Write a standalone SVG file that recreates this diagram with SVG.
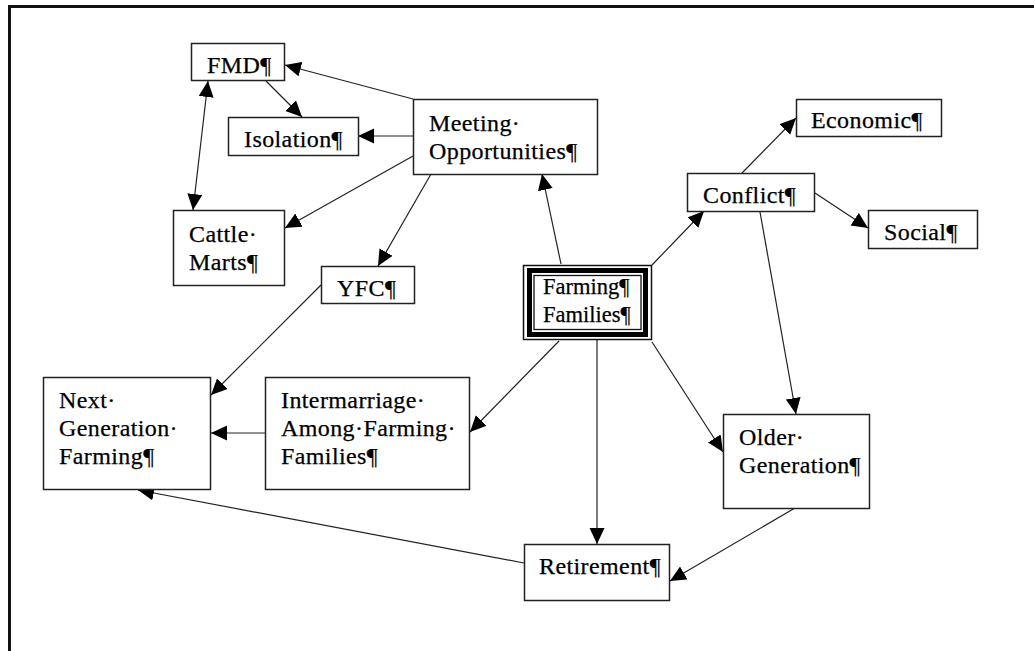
<svg xmlns="http://www.w3.org/2000/svg" width="1034" height="651" viewBox="0 0 1034 651">
<defs>
<marker id="ah" markerUnits="userSpaceOnUse" markerWidth="17" markerHeight="16" refX="16" refY="7.5" orient="auto-start-reverse" viewBox="0 0 17 16">
<path d="M0,0 L16,7.5 L0,15 z" fill="#000"/>
</marker>
<style>
.box{fill:#fff;stroke:#222;stroke-width:1.5}
.t{font-family:"Liberation Serif","Times New Roman",serif;font-size:24px;letter-spacing:0.4px;fill:#000;stroke:#000;stroke-width:0.25}
.ff{font-size:22.5px;letter-spacing:0}
.c{fill:none;stroke:#222;stroke-width:1.2;marker-end:url(#ah)}
</style>
</defs>
<rect width="1034" height="651" fill="#fff"/>
<rect id="frame" x="9.5" y="6.5" width="1040" height="670" fill="none" stroke="#111" stroke-width="3"/>
<g id="connectors">
<path class="c" d="M413,99 L285,65"/>
<path class="c" d="M266,81 L302,117"/>
<path class="c" d="M413,136 L358,136"/>
<path class="c" d="M208,81 L193,210" style="marker-start:url(#ah)"/>
<path class="c" d="M413,156 L285,228"/>
<path class="c" d="M431,174 L378,266"/>
<path class="c" d="M321,285 L211,395"/>
<path class="c" d="M265,433 L211,433"/>
<path class="c" d="M524,563 L138,490"/>
<path class="c" d="M561,264 L542,174"/>
<path class="c" d="M652,265 L704,211"/>
<path class="c" d="M742,173 L796,118"/>
<path class="c" d="M815,193 L868,228"/>
<path class="c" d="M760,212 L796,414"/>
<path class="c" d="M559,341 L470,432"/>
<path class="c" d="M597,340 L597,544"/>
<path class="c" d="M652,342 L723,452"/>
<path class="c" d="M795,508 L670,581"/>
</g>
<g id="fmd"><rect class="box" x="191.5" y="43.5" width="93" height="37"/><text class="t" x="207" y="73">FMD¶</text></g>
<g id="isolation"><rect class="box" x="228.5" y="117.5" width="130" height="38"/><text class="t" x="244" y="147">Isolation¶</text></g>
<g id="meeting"><rect class="box" x="413.5" y="99.5" width="184" height="75"/><text class="t" x="429" y="131">Meeting·</text><text class="t" x="429" y="159">Opportunities¶</text></g>
<g id="cattle"><rect class="box" x="173.5" y="210.5" width="111" height="75"/><text class="t" x="189" y="242">Cattle·</text><text class="t" x="189" y="270">Marts¶</text></g>
<g id="yfc"><rect class="box" x="321.5" y="266.5" width="93" height="37"/><text class="t" x="337" y="296">YFC¶</text></g>
<g id="economic"><rect class="box" x="796.5" y="99.5" width="145" height="37"/><text class="t" x="811" y="128">Economic¶</text></g>
<g id="conflict"><rect class="box" x="687.5" y="173.5" width="127" height="38"/><text class="t" x="703" y="203">Conflict¶</text></g>
<g id="social"><rect class="box" x="868.5" y="210.5" width="109" height="38"/><text class="t" x="884" y="240">Social¶</text></g>
<g id="farming-families">
<rect x="523.5" y="265.5" width="128" height="74" fill="#fff" stroke="#111" stroke-width="1.5"/>
<rect x="529.5" y="270.5" width="116" height="64" fill="none" stroke="#000" stroke-width="5"/>
<rect x="534" y="275.5" width="107" height="54" fill="none" stroke="#111" stroke-width="1.3"/>
<text class="t ff" x="543" y="294">Farming¶</text><text class="t ff" x="543" y="322">Families¶</text></g>
<g id="next-generation"><rect class="box" x="43.5" y="377.5" width="167" height="112"/><text class="t" x="59" y="408">Next·</text><text class="t" x="59" y="436">Generation·</text><text class="t" x="59" y="464">Farming¶</text></g>
<g id="intermarriage"><rect class="box" x="265.5" y="377.5" width="204" height="112"/><text class="t" x="281" y="408">Intermarriage·</text><text class="t" x="281" y="436">Among·Farming·</text><text class="t" x="281" y="464">Families¶</text></g>
<g id="older-generation"><rect class="box" x="723.5" y="414.5" width="146" height="94"/><text class="t" x="739" y="445">Older·</text><text class="t" x="739" y="473">Generation¶</text></g>
<g id="retirement"><rect class="box" x="524.5" y="544.5" width="145" height="56"/><text class="t" x="539" y="574">Retirement¶</text></g>
</svg>
